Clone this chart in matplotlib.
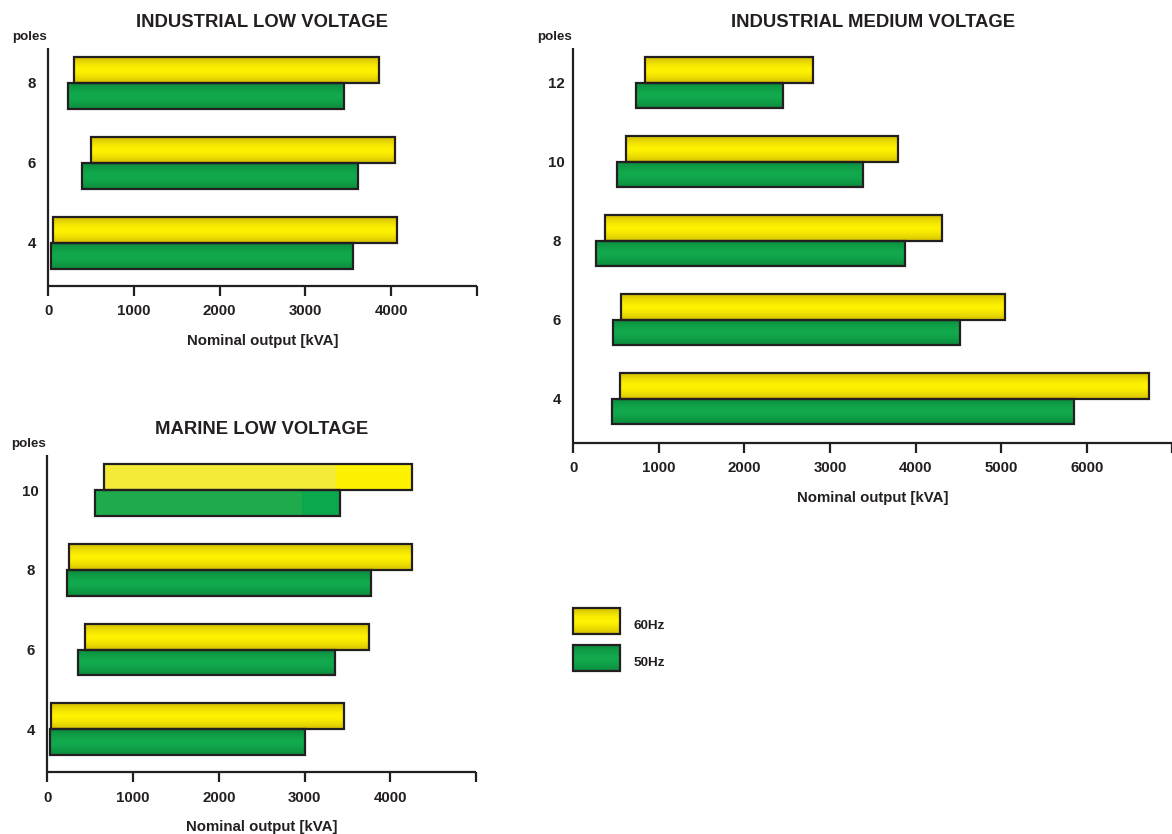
import numpy as np
import matplotlib
matplotlib.use("Agg")
import matplotlib.pyplot as plt
from matplotlib.colors import to_rgb
from matplotlib.patches import Rectangle, Patch
from matplotlib.legend_handler import HandlerBase

plt.rcParams["font.family"] = ["Liberation Sans", "DejaVu Sans"]
plt.rcParams["font.weight"] = "bold"

# ---- data: output ranges (kVA) per number of poles ----
ilv_poles = ["4", "6", "8"]
ilv_60_min = [50, 495, 300]
ilv_60_max = [4075, 4045, 3865]
ilv_50_min = [30, 395, 232]
ilv_50_max = [3562, 3610, 3453]

imv_poles = ["4", "6", "8", "10", "12"]
imv_60_min = [545, 555, 365, 620, 840]
imv_60_max = [6733, 5050, 4310, 3792, 2800]
imv_50_min = [452, 466, 270, 515, 727]
imv_50_max = [5848, 4518, 3871, 3380, 2455]

mlv_poles = ["4", "6", "8", "10"]
mlv_60_min = [47, 436, 254, 662]
mlv_60_max = [3462, 3757, 4258, 4252]
mlv_50_min = [35, 362, 227, 554]
mlv_50_max = [3001, 3352, 3780, 3418]
# the 10-pole marine bars are printed in two flat tones
mlv_10_tone_split_60 = 3362
mlv_10_tone_split_50 = 2965

INK = "#231f20"
YEL_EDGE, YEL_MID = "#d3c000", "#fff200"
GRN_EDGE, GRN_MID = "#0b8a3d", "#12aa4d"
YEL_PALE, YEL_FLAT = "#f4ea38", "#fff200"
GRN_PALE, GRN_FLAT = "#1fab4b", "#0ba94d"

BAR_H = 0.325
W, H = 1172, 834


def grad_colors(edge, mid, n=64):
    e = np.array(to_rgb(edge))
    m = np.array(to_rgb(mid))
    t = np.linspace(0, 1, n)
    w = np.abs(2 * t - 1) ** 1.5
    return m[None, :] * (1 - w[:, None]) + e[None, :] * w[:, None]


def shade(ax, patch, edge, mid):
    x0, y0 = patch.get_x(), patch.get_y()
    w, h = patch.get_width(), patch.get_height()
    img = grad_colors(edge, mid)[:, None, :]
    ax.imshow(img, extent=(x0, x0 + w, y0, y0 + h), aspect="auto",
              origin="lower", interpolation="bilinear", zorder=2)


def flat(ax, patch, split, pale, bright):
    x0, y0 = patch.get_x(), patch.get_y()
    w, h = patch.get_width(), patch.get_height()
    ax.add_patch(Rectangle((x0, y0), split - x0, h, fc=pale, ec="none", zorder=2))
    ax.add_patch(Rectangle((split, y0), x0 + w - split, h, fc=bright, ec="none", zorder=2))


def axes_px(left, top, right, bottom):
    return [left / W, 1 - bottom / H, (right - left) / W, (bottom - top) / H]


def panel(fig, rect_px, title, poles, lo60, hi60, lo50, hi50, xmax,
          ylim, splits=None):
    ax = fig.add_axes(axes_px(*rect_px))
    y = np.arange(len(poles))
    b60 = ax.barh(y, np.subtract(hi60, lo60), left=lo60, height=BAR_H,
                  align="edge", fc="none", ec=INK, lw=1.6, zorder=3)
    b50 = ax.barh(y - BAR_H, np.subtract(hi50, lo50), left=lo50, height=BAR_H,
                  align="edge", fc="none", ec=INK, lw=1.6, zorder=3)
    for i, (p60, p50) in enumerate(zip(b60, b50)):
        if splits and i in splits:
            s60, s50 = splits[i]
            flat(ax, p60, s60, YEL_PALE, YEL_FLAT)
            flat(ax, p50, s50, GRN_PALE, GRN_FLAT)
        else:
            shade(ax, p60, YEL_EDGE, YEL_MID)
            shade(ax, p50, GRN_EDGE, GRN_MID)

    ax.set_xlim(0, xmax)
    ax.set_ylim(*ylim)
    ticks = list(range(0, xmax + 1, 1000))
    ax.set_xticks(ticks)
    ax.set_xticklabels([str(t) if t < xmax else "" for t in ticks])
    ax.set_yticks(y)
    ax.set_yticklabels(poles)
    for lab in ax.get_yticklabels():
        lab.set_horizontalalignment("center")
    ax.tick_params(axis="x", length=7, width=1.6, pad=6.5, labelsize=10.8,
                   colors=INK)
    ax.tick_params(axis="y", length=0, pad=12, labelsize=10.8, colors=INK)
    for s in ("top", "right"):
        ax.spines[s].set_visible(False)
    for s in ("left", "bottom"):
        ax.spines[s].set_linewidth(1.6)
        ax.spines[s].set_color(INK)
        ax.spines[s].set_capstyle("butt")

    ax.annotate(title, xy=(0.5, 1), xycoords="axes fraction",
                xytext=(0, 25.5 * 0.72), textcoords="offset points",
                ha="center", va="center", fontsize=13.3, color=INK)
    ax.annotate("poles", xy=(0, 1), xycoords="axes fraction",
                xytext=(-18.5 * 0.72, 11.5 * 0.72), textcoords="offset points",
                ha="center", va="center", fontsize=9.6, color=INK)
    ax.annotate("Nominal output [kVA]", xy=(0.5, 0), xycoords="axes fraction",
                xytext=(0, -55 * 0.72), textcoords="offset points",
                ha="center", va="center", fontsize=10.8, color=INK)
    return ax


class GradientBox(HandlerBase):
    """Legend key drawn as a framed box with a vertical shading."""

    def __init__(self, edge, mid, lift=0.0):
        super().__init__()
        self.edge, self.mid, self.lift = edge, mid, lift

    def create_artists(self, legend, orig_handle, xdescent, ydescent,
                       width, height, fontsize, trans):
        cols = grad_colors(self.edge, self.mid, 24)
        n = len(cols)
        y0 = -ydescent + self.lift
        arts = []
        for i, c in enumerate(cols):
            r = Rectangle((-xdescent, y0 + height * i / n), width,
                          height / n + 0.01, fc=c, ec="none", transform=trans)
            arts.append(r)
        arts.append(Rectangle((-xdescent, y0), width, height, fc="none",
                              ec=INK, lw=1.6, transform=trans))
        return arts


fig = plt.figure(figsize=(W / 100, H / 100), dpi=100)

panel(fig, (48.3, 48.0, 476.7, 285.7), "INDUSTRIAL LOW VOLTAGE", ilv_poles,
      ilv_60_min, ilv_60_max, ilv_50_min, ilv_50_max, 5000, (-0.5375, 2.434))
panel(fig, (573.3, 48.3, 1172.3, 442.7), "INDUSTRIAL MEDIUM VOLTAGE", imv_poles,
      imv_60_min, imv_60_max, imv_50_min, imv_50_max, 7000, (-0.557, 4.435))
panel(fig, (47.3, 455.0, 476.0, 772.3), "MARINE LOW VOLTAGE", mlv_poles,
      mlv_60_min, mlv_60_max, mlv_50_min, mlv_50_max, 5000, (-0.539, 3.439),
      splits={3: (mlv_10_tone_split_60, mlv_10_tone_split_50)})

LIFT = 4 * 0.72
h60 = Patch(label="60Hz")
h50 = Patch(label="50Hz")
fig.legend(handles=[h60, h50], loc="upper left",
           bbox_to_anchor=(573.3 / W, 1 - 611.5 / H), frameon=False,
           borderaxespad=0, borderpad=0, fontsize=9.7,
           handlelength=3.45, handleheight=2.65, handletextpad=1.0,
           labelspacing=0.8, labelcolor=INK,
           handler_map={h60: GradientBox(YEL_EDGE, YEL_MID, LIFT),
                        h50: GradientBox(GRN_EDGE, GRN_MID, LIFT)})

fig.savefig("out.png", dpi=100)
